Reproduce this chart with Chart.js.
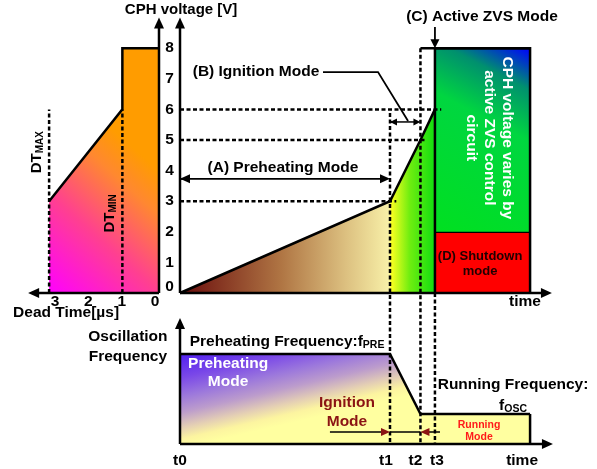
<!DOCTYPE html>
<html>
<head>
<meta charset="utf-8">
<script src="https://cdn.jsdelivr.net/npm/chart.js@4.4.0/dist/chart.umd.min.js"></script>
<style>
html, body { margin: 0; padding: 0; background: #fff; }
#wrap { width: 597px; height: 469px; }
</style>
</head>
<body>
<div id="wrap"><canvas id="modeChart"></canvas></div>
<script>
// time marks (relative units, t0 = 0)
var modeTimes = [0, 10, 11.45, 12.14];
var timeLabels = ['t0', 't1', 't2', 't3'];
var endTime = 16.67;

// CPH voltage [V] during start-up
var voltTicks = [0, 1, 2, 3, 4, 5, 6, 7, 8];
var cphVolts = [0, 3, 5, 6];          // at t0, t1, t2, t3
var zvsTop = 8;
var shutdownVolt = 2;

// dead time [us] against CPH voltage
var deadTicks = [0, 1, 2, 3];
var deadTimes = [3.3, 1.1, 1.1, 0];
var deadVolts = [3, 6, 8, 8];

// oscillation frequency (relative)
var freqTimes = [0, 10, 11.45, endTime];
var freqValues = [3, 3, 1, 1];

var FONT = '"Liberation Sans", Arial, sans-serif';
var FS = 15.5;

function pts(xs, ys) {
    return xs.map(function(x, i) { return { x: x, y: ys[i] }; });
}

function grad(chart, x1, y1, x2, y2, stops) {
    var g = chart.ctx.createLinearGradient(x1, y1, x2, y2);
    stops.forEach(function(s) { g.addColorStop(s[0], s[1]); });
    return g;
}

// gradients, built from the scales once the chart is laid out
function cphFill(c) {
    var ch = c.chart;
    if (!ch.chartArea) return '#e0c080';
    var x = ch.scales.x;
    return grad(ch, x.getPixelForValue(modeTimes[0]), 0, x.getPixelForValue(modeTimes[3]), 0, [
        [0, '#6a0c0c'], [0.4, '#b07644'], [0.65, '#dcc080'], [0.82, '#f8f0a8'],
        [0.83, '#f8ff20'], [0.9, '#70ee10'], [1, '#10dd10']
    ]);
}
function zvsFill(c) {
    var ch = c.chart;
    if (!ch.chartArea) return '#00d040';
    var x = ch.scales.x, y = ch.scales.y;
    return grad(ch, x.getPixelForValue(modeTimes[3]), y.getPixelForValue(shutdownVolt),
        x.getPixelForValue(endTime), y.getPixelForValue(zvsTop), [
        [0, '#00e020'], [0.6, '#00d640'], [0.82, '#00906e'], [1, '#0000ff']
    ]);
}
function deadFill(c) {
    var ch = c.chart;
    if (!ch.chartArea) return '#ff8040';
    var x = ch.scales.xDT, y = ch.scales.y;
    return grad(ch, x.getPixelForValue(3.3), y.getPixelForValue(0), x.getPixelForValue(0), y.getPixelForValue(4), [
        [0, '#ff00ff'], [0.45, '#ff4090'], [0.8, '#ff8830'], [1, '#ff9c00']
    ]);
}
function preFill(c) {
    var ch = c.chart;
    if (!ch.chartArea) return '#b090d0';
    var x = ch.scales.x, y = ch.scales.yF;
    return grad(ch, x.getPixelForValue(0), y.getPixelForValue(3), x.getPixelForValue(1), y.getPixelForValue(0), [
        [0, '#5020f0'], [0.25, '#7a48e8'], [0.45, '#9c78dc'], [0.62, '#bc9ccc'],
        [0.78, '#e4cfb4'], [0.9, '#fcf4a0'], [1, '#ffffa0']
    ]);
}

var line = { fill: false, borderColor: '#000', borderWidth: 2.5, pointRadius: 0, tension: 0 };
function ds(extra) { return Object.assign({}, line, extra); }

var guideData = [];
[1, 2, 3].forEach(function(i) {
    guideData.push(ds({ data: pts([0, modeTimes[i] + 0.3], [cphVolts[i], cphVolts[i]]), borderDash: [4, 2.5] }));
});

var datasets = guideData.concat([
    // dead time markers
    ds({ xAxisID: 'xDT', data: pts([deadTimes[0], deadTimes[0]], [0, deadVolts[1]]), borderDash: [4, 2.5] }),
    ds({ xAxisID: 'xDT', data: pts([deadTimes[1], deadTimes[1]], [0, deadVolts[1]]), borderDash: [4, 2.5] }),
    // ZVS / shutdown box outline
    ds({ data: pts([modeTimes[2], endTime, endTime], [zvsTop, zvsTop, 0]) }),
    ds({ data: pts([modeTimes[3], modeTimes[3]], [0, zvsTop]) }),
    // frequency right edge
    ds({ yAxisID: 'yF', data: pts([endTime, endTime], [freqValues[3], 0]) }),
    // filled areas
    ds({ data: pts(modeTimes, cphVolts), fill: 'origin', backgroundColor: cphFill }),
    ds({ data: pts([modeTimes[3], endTime], [zvsTop, zvsTop]), fill: { value: shutdownVolt }, backgroundColor: zvsFill }),
    ds({ data: pts([modeTimes[3], endTime], [shutdownVolt, shutdownVolt]), fill: 'origin', backgroundColor: '#ff0000' }),
    ds({ xAxisID: 'xDT', data: pts(deadTimes, deadVolts), fill: 'origin', backgroundColor: deadFill }),
    ds({ yAxisID: 'yF', data: pts(freqTimes.slice(0, 3), freqValues.slice(0, 3)), fill: 'origin', backgroundColor: preFill }),
    ds({ yAxisID: 'yF', data: pts(freqTimes.slice(2), freqValues.slice(2)), fill: 'origin', backgroundColor: '#ffffa0' })
]);

function arrowHead(ctx, x, y, ang, len, half) {
    ctx.save();
    ctx.translate(x, y);
    ctx.rotate(ang);
    ctx.beginPath();
    ctx.moveTo(0, 0);
    ctx.lineTo(-len, -half);
    ctx.lineTo(-len, half);
    ctx.closePath();
    ctx.fill();
    ctx.restore();
}
function seg(ctx, x1, y1, x2, y2, w, dash) {
    ctx.save();
    ctx.lineWidth = w;
    ctx.setLineDash(dash || []);
    ctx.beginPath();
    ctx.moveTo(x1, y1);
    ctx.lineTo(x2, y2);
    ctx.stroke();
    ctx.restore();
}
function arrow(ctx, x1, y1, x2, y2, w, len, half, both) {
    var ang = Math.atan2(y2 - y1, x2 - x1);
    seg(ctx, x1, y1, x2 - Math.cos(ang) * len * 0.8, y2 - Math.sin(ang) * len * 0.8, w);
    arrowHead(ctx, x2, y2, ang, len, half);
    if (both) {
        seg(ctx, x1 + Math.cos(ang) * len * 0.8, y1 + Math.sin(ang) * len * 0.8, x1, y1, w);
        arrowHead(ctx, x1, y1, ang + Math.PI, len, half);
    }
}
function text(ctx, s, x, y, size, color, align) {
    ctx.font = 'bold ' + size + 'px ' + FONT;
    ctx.fillStyle = color || '#000';
    ctx.textAlign = align || 'center';
    ctx.textBaseline = 'middle';
    ctx.fillText(s, x, y);
}
// main text with smaller subscript, centred on x
function subText(ctx, main, sub, x, y, size, subSize, color) {
    ctx.font = 'bold ' + size + 'px ' + FONT;
    var w1 = ctx.measureText(main).width;
    ctx.font = 'bold ' + subSize + 'px ' + FONT;
    var w2 = ctx.measureText(sub).width;
    var left = x - (w1 + w2) / 2;
    text(ctx, main, left, y, size, color, 'left');
    text(ctx, sub, left + w1, y + size * 0.2, subSize, color, 'left');
}

var drawing = {
    id: 'drawing',
    afterDatasetsDraw: function(chart) {
        var ctx = chart.ctx;
        var X = chart.scales.x, D = chart.scales.xDT, Y = chart.scales.y, F = chart.scales.yF;
        var tx = function(v) { return X.getPixelForValue(v); };
        var dx = function(v) { return D.getPixelForValue(v); };
        var vy = function(v) { return Y.getPixelForValue(v); };
        var fy = function(v) { return F.getPixelForValue(v); };
        ctx.save();
        ctx.strokeStyle = '#000';
        ctx.fillStyle = '#000';

        // mode boundaries through both panels
        var dash = [4, 2.5];
        seg(ctx, tx(modeTimes[1]), vy(5.88), tx(modeTimes[1]), fy(0), 2.5, dash);
        seg(ctx, tx(modeTimes[2]), vy(zvsTop), tx(modeTimes[2]), fy(0), 2.5, dash);
        seg(ctx, tx(modeTimes[3]), vy(0), tx(modeTimes[3]), fy(0), 2.5, dash);

        // axes
        arrow(ctx, dx(0), vy(0), dx(0), vy(9.0), 2.5, 11, 5);
        arrow(ctx, tx(0), vy(0), tx(0), vy(9.0), 2.5, 11, 5);
        arrow(ctx, dx(0), vy(0), dx(3.93), vy(0), 2.5, 11, 5);
        arrow(ctx, tx(0), vy(0), tx(17.71), vy(0), 2.5, 11, 5);
        arrow(ctx, tx(0), fy(0), tx(0), fy(4.2), 2.5, 11, 5);
        arrow(ctx, tx(0), fy(0), tx(17.76), fy(0), 2.5, 11, 5);

        // tick labels
        voltTicks.forEach(function(v) {
            text(ctx, String(v), (dx(0) + tx(0)) / 2, vy(v === 0 ? 0.22 : v), FS);
        });
        deadTicks.forEach(function(v) {
            text(ctx, String(v), dx(v) - 4, vy(-0.3), FS);
        });
        timeLabels.forEach(function(s, i) {
            var off = [0, -4, -5, 2][i];
            text(ctx, s, tx(modeTimes[i]) + off, fy(-0.57), FS);
        });
        text(ctx, 'time', tx(16.43), vy(-0.29), FS);
        text(ctx, 'time', tx(16.29), fy(-0.57), FS);

        // axis titles
        text(ctx, 'CPH voltage [V]', tx(0.05), vy(9.25), 15);
        text(ctx, 'Dead Time[\u00b5s]', dx(2.79), vy(-0.65), FS);
        text(ctx, 'Oscillation', tx(-2.48), fy(3.57), FS);
        text(ctx, 'Frequency', tx(-2.48), fy(2.9), FS);

        // dead time markers
        ctx.save();
        ctx.translate(dx(3.66), vy(4.6));
        ctx.rotate(-Math.PI / 2);
        subText(ctx, 'DT', 'MAX', 0, 0, 15, 10);
        ctx.restore();
        ctx.save();
        ctx.translate(dx(1.47), vy(2.6));
        ctx.rotate(-Math.PI / 2);
        subText(ctx, 'DT', 'MIN', 0, 0, 15, 10);
        ctx.restore();

        // (A) preheating
        text(ctx, '(A) Preheating Mode', tx(4.9), vy(4.08), FS);
        arrow(ctx, tx(0), vy(3.73), tx(modeTimes[1]), vy(3.73), 1.8, 10, 4.5, true);

        // (B) ignition
        text(ctx, '(B) Ignition Mode', tx(3.62), vy(7.22), FS);
        ctx.save();
        ctx.lineWidth = 1.8;
        ctx.beginPath();
        ctx.moveTo(tx(6.81), vy(7.22));
        ctx.lineTo(tx(9.43), vy(7.22));
        ctx.lineTo(tx(10.86), vy(5.62));
        ctx.stroke();
        ctx.restore();
        arrow(ctx, tx(modeTimes[1]), vy(5.59), tx(modeTimes[2]), vy(5.59), 1.5, 7, 3.5, true);

        // (C) active ZVS
        text(ctx, '(C) Active ZVS Mode', tx(14.38), vy(9.02), FS);
        arrow(ctx, tx(modeTimes[3]), vy(8.69), tx(modeTimes[3]), vy(zvsTop), 1.8, 9, 4.5);

        ctx.save();
        ctx.translate(tx(14.71), vy(5.07));
        ctx.rotate(Math.PI / 2);
        text(ctx, 'CPH voltage varies by', 0, -18, FS, '#fff');
        text(ctx, 'active ZVS control', 0, 0, FS, '#fff');
        text(ctx, 'circuit', 0, 18, FS, '#fff');
        ctx.restore();

        // (D) shutdown
        text(ctx, '(D) Shutdown', tx(14.29), vy(1.21), 13, '#200000');
        text(ctx, 'mode', tx(14.29), vy(0.69), 13, '#200000');

        // frequency panel
        subText(ctx, 'Preheating Frequency:f', 'PRE', tx(5.1), fy(3.4), FS, 10.5);
        text(ctx, 'Preheating', tx(2.29), fy(2.67), FS, '#fff');
        text(ctx, 'Mode', tx(2.29), fy(2.07), FS, '#fff');
        text(ctx, 'Ignition', tx(7.95), fy(1.37), FS, '#8b1414');
        text(ctx, 'Mode', tx(7.95), fy(0.73), FS, '#8b1414');
        arrow(ctx, tx(7.14), fy(0.4), tx(modeTimes[1]), fy(0.4), 1.5, 9, 4);
        seg(ctx, tx(modeTimes[1]), fy(0.4), tx(modeTimes[2]), fy(0.4), 1.5);
        arrow(ctx, tx(12.38), fy(0.4), tx(modeTimes[2]), fy(0.4), 1.5, 9, 4);
        text(ctx, 'Running Frequency:', tx(15.86), fy(1.97), FS);
        subText(ctx, 'f', 'OSC', tx(15.86), fy(1.27), FS, 10.5);
        text(ctx, 'Running', tx(14.24), fy(0.63), 10.5, '#ff1a1a');
        text(ctx, 'Mode', tx(14.24), fy(0.23), 10.5, '#ff1a1a');

        ctx.restore();
    }
};

new Chart(document.getElementById('modeChart'), {
    type: 'line',
    data: { datasets: datasets },
    plugins: [drawing],
    options: {
        responsive: true,
        maintainAspectRatio: false,
        animation: false,
        layout: { padding: 0 },
        plugins: { legend: { display: false }, tooltip: { enabled: false } },
        scales: {
            x: { type: 'linear', display: false, min: -180 / 21, max: (597 - 180) / 21 },
            xDT: { type: 'linear', display: false, reverse: true, min: (159 - 597) / 33.3, max: 159 / 33.3 },
            y: { type: 'linear', display: false, min: -(469 - 293) / 30.6, max: 293 / 30.6 },
            yF: { type: 'linear', display: false, min: -25 / 30, max: 444 / 30 }
        }
    }
});
</script>
</body>
</html>
